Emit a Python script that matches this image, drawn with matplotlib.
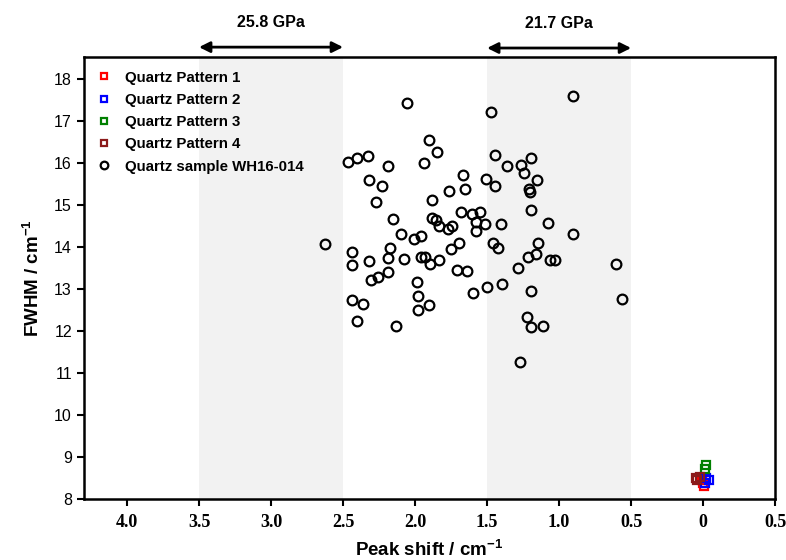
import matplotlib
matplotlib.use("Agg")
import matplotlib.pyplot as plt
from matplotlib.lines import Line2D

plt.rcParams['font.family'] = ['Liberation Sans', 'DejaVu Sans']
plt.rcParams['mathtext.fontset'] = 'custom'
plt.rcParams['mathtext.bf'] = 'Liberation Sans:bold'
plt.rcParams['mathtext.rm'] = 'Liberation Sans'

# ---- data ----
sample_x = [2.058, 1.474, 1.903, 1.845, 2.463, 2.401, 2.324, 2.185, 1.935, 1.442,
            1.363, 1.266, 1.192, 1.243, 1.153, 1.667, 2.317, 2.227, 1.655, 1.764,
            1.505, 1.442, 1.206, 1.200, 2.273, 1.882, 2.155, 1.880, 1.854, 1.833,
            1.773, 1.741, 1.683, 1.604, 1.551, 1.574, 1.514, 1.574, 1.405, 1.192,
            1.074, 2.095, 2.005, 1.960, 2.625, 2.435, 2.435, 2.174, 2.185, 2.317,
            2.074, 1.960, 1.931, 1.896, 1.831, 1.752, 1.692, 1.456, 1.422, 1.144,
            1.215, 1.162, 1.063, 1.028, 1.283, 2.185, 2.255, 2.308, 1.706, 1.641,
            1.988, 1.502, 1.396, 1.595, 1.192, 1.977, 2.435, 2.363, 1.903, 1.977,
            2.405, 2.134, 1.224, 1.192, 1.113, 0.903, 0.903, 0.602, 0.5625, 1.273]
sample_y = [17.42, 17.21, 16.55, 16.25, 16.03, 16.13, 16.16, 15.93, 16.01, 16.18,
            15.92, 15.94, 16.13, 15.77, 15.60, 15.71, 15.59, 15.45, 15.39, 15.34,
            15.62, 15.46, 15.37, 15.30, 15.07, 15.13, 14.67, 14.70, 14.64, 14.50,
            14.42, 14.51, 14.84, 14.78, 14.83, 14.59, 14.55, 14.37, 14.55, 14.87,
            14.56, 14.32, 14.20, 14.25, 14.06, 13.89, 13.57, 13.97, 13.73, 13.67,
            13.71, 13.75, 13.77, 13.59, 13.70, 13.95, 14.09, 14.09, 13.98, 14.10,
            13.75, 13.83, 13.69, 13.69, 13.49, 13.41, 13.29, 13.21, 13.44, 13.43,
            13.17, 13.04, 13.12, 12.90, 12.96, 12.83, 12.73, 12.64, 12.62, 12.49,
            12.23, 12.12, 12.33, 12.10, 12.13, 17.60, 14.31, 13.60, 12.75, 11.26]

p1_x = [0.010, -0.005, 0.000]
p1_y = [8.45, 8.32, 8.38]
p2_x = [-0.020, -0.040, -0.010]
p2_y = [8.50, 8.45, 8.38]
p3_x = [-0.020, -0.015]
p3_y = [8.80, 8.72]
p4_x = [0.050, 0.040, 0.020]
p4_y = [8.50, 8.45, 8.52]

pattern_labels = ["Quartz Pattern 1", "Quartz Pattern 2", "Quartz Pattern 3", "Quartz Pattern 4"]
pattern_colors = ["#ff0000", "#0000ff", "#008000", "#8b1a1a"]
sample_label = "Quartz sample WH16-014"

bands = [(3.5, 2.5, "25.8 GPa"), (1.5, 0.5, "21.7 GPa")]

xticks = [4.0, 3.5, 3.0, 2.5, 2.0, 1.5, 1.0, 0.5, 0.0, -0.5]
xticklabels = ["4.0", "3.5", "3.0", "2.5", "2.0", "1.5", "1.0", "0.5", "0", "0.5"]
yticks = [8, 9, 10, 11, 12, 13, 14, 15, 16, 17, 18]

# ---- figure ----
fig = plt.figure(figsize=(7.86, 5.60), dpi=100)
ax = fig.add_axes([0.1066, 0.109, 0.8796, 0.789])

for x0, x1, lab in bands:
    ax.axvspan(x1, x0, color="#f2f2f2", zorder=0, lw=0)

ax.plot(sample_x, sample_y, ls="none", marker="o", ms=7.0, mfc="none",
        mec="black", mew=1.6, zorder=3)
for xs, ys, c in zip([p1_x, p2_x, p3_x, p4_x], [p1_y, p2_y, p3_y, p4_y], pattern_colors):
    ax.plot(xs, ys, ls="none", marker="s", ms=5.5, mfc="none", mec=c, mew=1.6, zorder=4)

ax.set_xlim(4.3, -0.5)
ax.set_ylim(8, 18.52)
ax.set_xticks(xticks)
ax.set_xticklabels(xticklabels, family="Liberation Serif", fontweight="bold", fontsize=13)
ax.set_yticks(yticks)
ax.tick_params(axis="y", labelsize=11.5, direction="out", length=5, width=1.5)
ax.tick_params(axis="x", direction="out", length=5, width=1.5, pad=6)
for s in ax.spines.values():
    s.set_linewidth(1.8)

ax.set_xlabel("Peak shift / cm$^{\\mathbf{-1}}$", fontsize=13.5, fontweight="bold", labelpad=6)
ax.set_ylabel("FWHM / cm$^{\\mathbf{-1}}$", fontsize=13.5, fontweight="bold", labelpad=8)

# arrows & pressure labels
for i, (x0, x1, lab) in enumerate(bands):
    yy = 1.0226 - 0.002 * i
    ax.annotate("", xy=(x0, yy), xytext=(x1, yy), xycoords=("data", "axes fraction"),
                textcoords=("data", "axes fraction"),
                arrowprops=dict(arrowstyle="<|-|>", color="black", lw=2,
                                mutation_scale=16, shrinkA=0, shrinkB=0),
                annotation_clip=False)
    ax.text((x0 + x1) / 2, 1.079 - 0.004 * i, lab, transform=ax.get_xaxis_transform(),
            ha="center", va="center", fontsize=11.5, fontweight="bold")

handles = [Line2D([], [], ls="none", marker="s", ms=5, mfc="none", mec=c, mew=1.6)
           for c in pattern_colors]
handles.append(Line2D([], [], ls="none", marker="o", ms=5.5, mfc="none", mec="black", mew=1.6))
leg = ax.legend(handles, pattern_labels + [sample_label], loc="upper left",
                bbox_to_anchor=(-0.003, 1.0), frameon=False, handlelength=1.2,
                handletextpad=0.8, labelspacing=0.55,
                prop={"weight": "bold", "size": 10.8})

fig.savefig("out.png", dpi=100)
